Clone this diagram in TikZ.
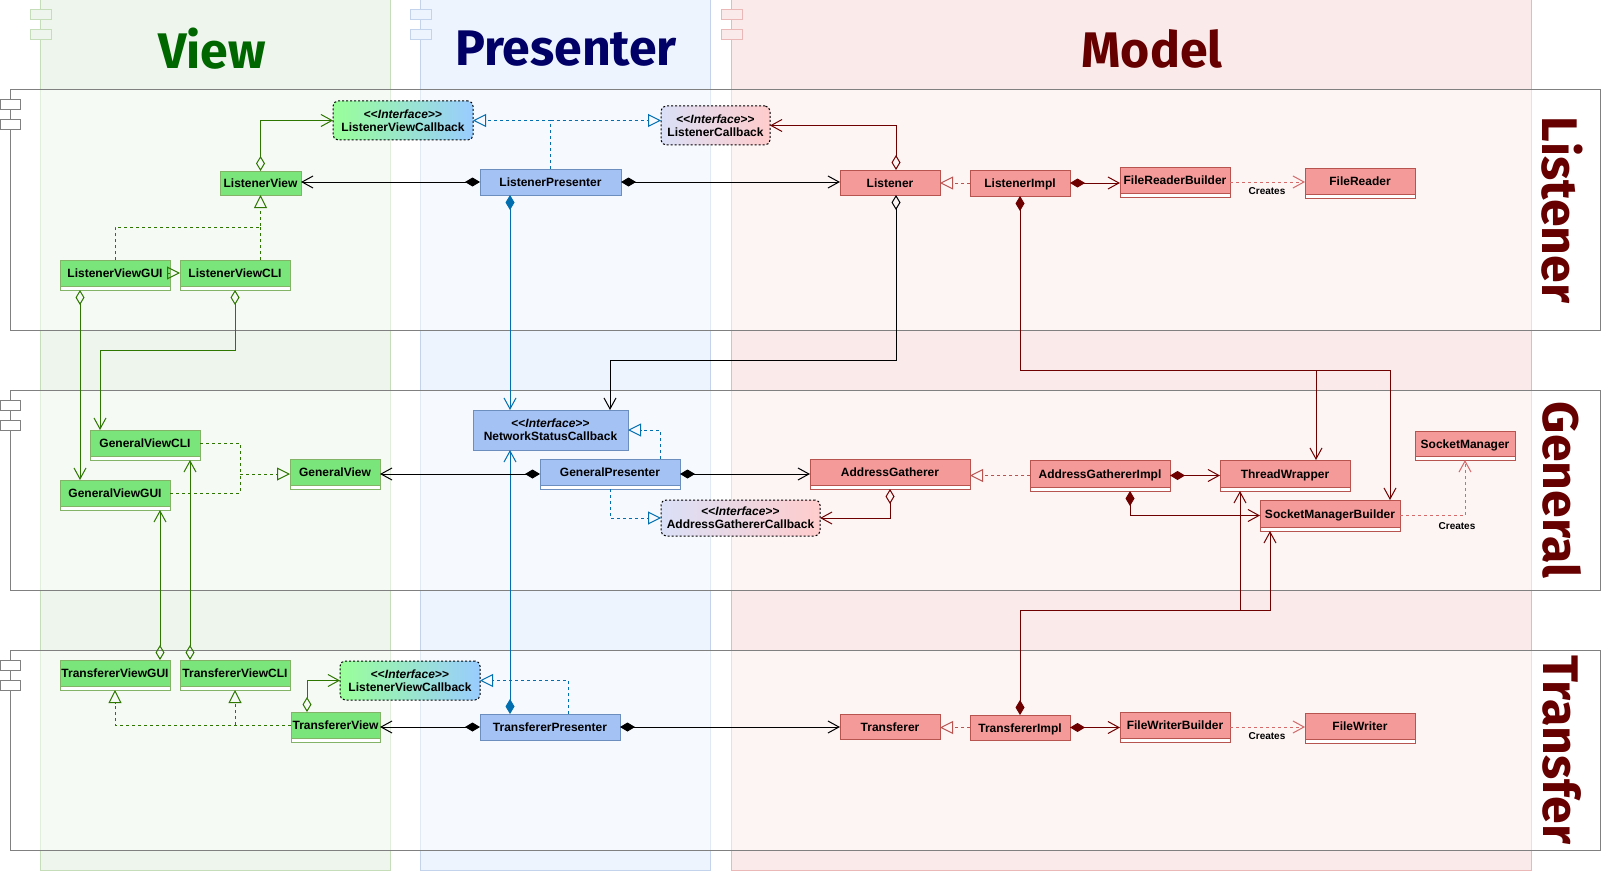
\documentclass[tikz,border=0pt]{standalone}
\usepackage{fontspec}
\setmainfont{Liberation Sans}
\newfontfamily\lanefont{Fira Sans}
\usetikzlibrary{arrows.meta}
\definecolor{viewfill}{HTML}{EEF5EC}
\definecolor{viewline}{HTML}{C6DDBA}
\definecolor{presfill}{HTML}{EEF4FD}
\definecolor{presline}{HTML}{C3D3EC}
\definecolor{modfill}{HTML}{FBEAEA}
\definecolor{modline}{HTML}{EBB8B8}
\definecolor{gfill}{HTML}{7AE57A}
\definecolor{gline}{HTML}{82B366}
\definecolor{bfill}{HTML}{A4C2F4}
\definecolor{bline}{HTML}{6C8EBF}
\definecolor{rfill}{HTML}{F49A99}
\definecolor{rline}{HTML}{B85450}
\definecolor{gconn}{HTML}{2D7600}
\definecolor{bconn}{HTML}{006EAF}
\definecolor{rconn}{HTML}{6F0000}
\definecolor{rdash}{HTML}{D46A6A}
\definecolor{viewtitle}{HTML}{006600}
\definecolor{prestitle}{HTML}{000066}
\definecolor{modtitle}{HTML}{660000}
\definecolor{ifg}{HTML}{99FF99}
\definecolor{ifb}{HTML}{99CCFF}
\definecolor{ifl}{HTML}{DAE0F7}
\definecolor{ifp}{HTML}{FFCCCC}
\definecolor{secline}{HTML}{808080}
\newcommand\clsfont{\fontsize{12}{14}\selectfont\bfseries}
\newcommand\intffont{\fontsize{12}{13}\selectfont\bfseries}
\newcommand\intf[1]{<\kern0pt<\textit{Interface}>\kern0pt>\\#1}
\newcommand\umlbox[7]{\node[#6, minimum width={(#4-#2)*1pt}, minimum height={(#5-#3)*1pt}] (#1) at ({(#2+#4)/2},{(#3+#5)/2}) {#7};}
\tikzset{
  adia/.tip={Diamond[open,length=15pt,width=9pt]},
  cdia/.tip={Diamond[length=15pt,width=9pt]},
  barb/.tip={Straight Barb[length=11pt,width=12pt]},
  otri/.tip={Triangle[open,length=13pt,width=13pt]},
  dsh/.style={dash pattern=on 3pt off 3pt},
  agg/.style={adia-barb},
  compo/.style={cdia-barb},
  assoc/.style={-barb},
  real/.style={dsh,-otri},
  clsbase/.style={draw, line width=1pt, font=\clsfont, inner sep=0pt, outer sep=0pt, text height=9pt, text depth=0pt},
  gcls/.style={clsbase, draw=gline, fill=gfill},
  bcls/.style={clsbase, draw=bline, fill=bfill},
  rcls/.style={clsbase, draw=rline, fill=rfill},
  compart/.style={text depth=4pt, path picture={
     \fill[white] (path picture bounding box.south west) rectangle ([yshift=4pt]path picture bounding box.south east);
     \draw[#1, line width=1pt] ([yshift=4pt]path picture bounding box.south west) -- ([yshift=4pt]path picture bounding box.south east);}},
  iface/.style={draw=black, line width=1pt, dash pattern=on 2pt off 2pt, rounded corners=5pt, font=\intffont, align=center, inner sep=0pt, outer sep=0pt},
  bface/.style={draw=bline, fill=bfill, line width=1pt, font=\intffont, align=center, inner sep=0pt, outer sep=0pt},
  lanetitle/.style={font={\lanefont\fontsize{50}{60}\selectfont\bfseries}},
  sectitle/.style={font={\lanefont\fontsize{50}{60}\selectfont\bfseries}, text=modtitle, rotate=-90},
  creates/.style={font={\fontsize{10}{12}\selectfont\bfseries}, text=black, inner sep=1pt},
  sectab/.style={draw=secline, fill=white, line width=1pt},
}
\begin{document}
\begin{tikzpicture}[x=1pt,y=-1pt,line width=1pt]
\useasboundingbox (0,0) rectangle (1606,872);
% lanes
\draw[viewline, fill=viewfill] (40,0) rectangle (390,870);
\draw[presline, fill=presfill] (420,0) rectangle (710,870);
\draw[modline, fill=modfill] (731,0) rectangle (1531,870);
\draw[viewline, fill=viewfill] (30,10) rectangle (51,20);
\draw[viewline, fill=viewfill] (30,30) rectangle (51,40);
\draw[presline, fill=presfill] (410,10) rectangle (431,20);
\draw[presline, fill=presfill] (410,30) rectangle (431,40);
\draw[modline, fill=modfill] (721,10) rectangle (742,20);
\draw[modline, fill=modfill] (721,30) rectangle (742,40);
\node[lanetitle, text=viewtitle] (tview) at (212,49) {View};
\node[lanetitle, text=prestitle] (tpres) at (566,49) {Presenter};
\node[lanetitle, text=modtitle] (tmodel) at (1152,49) {Model};
% sections
\foreach \ya/\yb in {90/330, 390/590, 650/850}{
  \fill[white, fill opacity=0.5] (10,\ya) rectangle (1600,\yb);
  \draw[secline] (10,\ya) rectangle (1600,\yb);
  \draw[sectab] (0,\ya+10) rectangle (20,\ya+20);
  \draw[sectab] (0,\ya+30) rectangle (20,\ya+40);
}
\node[sectitle] (tlis) at (1562,210) {Listener};
\node[sectitle] (tgen) at (1562,490) {General};
\node[sectitle] (ttra) at (1562,750) {Transfer};
% view nodes
\umlbox{lv}{220}{171}{301}{195}{gcls}{ListenerView}
\umlbox{lvgui}{60}{260}{170}{290}{gcls,compart=gline}{ListenerViewGUI}
\umlbox{lvcli}{180}{260}{290}{290}{gcls,compart=gline}{ListenerViewCLI}
\umlbox{gvcli}{90}{430}{200}{460}{gcls,compart=gline}{GeneralViewCLI}
\umlbox{gvgui}{60}{480}{170}{510}{gcls,compart=gline}{GeneralViewGUI}
\umlbox{gv}{290}{459}{380}{489}{gcls,compart=gline}{GeneralView}
\umlbox{tvgui}{60}{660}{170}{690}{gcls,compart=gline}{TransfererViewGUI}
\umlbox{tvcli}{180}{660}{290}{690}{gcls,compart=gline}{TransfererViewCLI}
\umlbox{tv}{291}{712}{380}{742}{gcls,compart=gline}{TransfererView}
\umlbox{lvcb}{333}{101}{473}{140}{iface,left color=ifg,right color=ifb}{\intf{ListenerViewCallback}}
\umlbox{tvcb}{340}{661}{480}{700}{iface,left color=ifg,right color=ifb}{\intf{ListenerViewCallback}}
% presenter nodes
\umlbox{lp}{480}{169}{621}{195}{bcls}{ListenerPresenter}
\umlbox{nsc}{473}{410}{628}{450}{bface}{\intf{NetworkStatusCallback}}
\umlbox{gp}{540}{459}{680}{489}{bcls,compart=bline}{GeneralPresenter}
\umlbox{tp}{480}{714}{620}{740}{bcls}{TransfererPresenter}
\umlbox{lcb}{661}{106}{770}{145}{iface,left color=ifl,right color=ifp}{\intf{ListenerCallback}}
\umlbox{agcb}{661}{500}{820}{536}{iface,left color=ifl,right color=ifp}{\intf{AddressGathererCallback}}
% model nodes
\umlbox{lis}{840}{170}{940}{195}{rcls}{Listener}
\umlbox{lisimpl}{970}{170}{1070}{196}{rcls}{ListenerImpl}
\umlbox{frb}{1120}{167}{1230}{197}{rcls,compart=rline}{FileReaderBuilder}
\umlbox{fr}{1305}{168}{1415}{198}{rcls,compart=rline}{FileReader}
\umlbox{ag}{810}{459}{970}{489}{rcls,compart=rline}{AddressGatherer}
\umlbox{agi}{1030}{460}{1170}{491}{rcls,compart=rline}{AddressGathererImpl}
\umlbox{tw}{1220}{460}{1350}{491}{rcls,compart=rline}{ThreadWrapper}
\umlbox{smb}{1260}{500}{1400}{531}{rcls,compart=rline}{SocketManagerBuilder}
\umlbox{sm}{1415}{431}{1515}{460}{rcls,compart=rline}{SocketManager}
\umlbox{tr}{840}{714}{940}{739}{rcls}{Transferer}
\umlbox{tri}{970}{715}{1070}{740}{rcls}{TransfererImpl}
\umlbox{fwb}{1120}{712}{1230}{742}{rcls,compart=rline}{FileWriterBuilder}
\umlbox{fw}{1305}{713}{1415}{743}{rcls,compart=rline}{FileWriter}
% helper coordinates
\coordinate (c1) at (0,350);
\coordinate (c2) at (0,360);
\coordinate (c3) at (0,370);
\coordinate (c4) at (0,610);
\coordinate (gvj) at (240,474);
\coordinate (gvcliin) at ([xshift=10pt]gvcli.north west);
\coordinate (tvl) at ([yshift=2pt]tv.west);
\coordinate (lpb) at ([xshift=30pt]lp.south west);
\coordinate (tpt) at ([xshift=30pt]tp.north west);
\coordinate (lisb) at ([xshift=6pt]lis.south);
\coordinate (list) at ([xshift=6pt]lis.north);
\coordinate (nsct) at ([xshift=137pt]nsc.north west);
\coordinate (smbt) at ([xshift=-10pt]smb.north east);
\coordinate (twt) at ([xshift=31pt]tw.north);
\coordinate (agib) at ([xshift=100pt]agi.south west);
\coordinate (smbb) at ([xshift=10pt]smb.south west);
\coordinate (twb) at ([xshift=20pt]tw.south west);
% view connectors
\draw[gconn, agg] (lv.north) |- (lvcb.west);
\draw[gconn, real] (lvgui.north) -- ++(0,-33) -| (lv.south);
\draw[gconn, dsh] (lv.south |- lvcli.north) -- ++(0,-33);
\draw[gconn, real] ([yshift=2pt]lvgui.east) -- ([yshift=2pt]lvcli.west);
\draw[gconn, agg] ([xshift=20pt]lvgui.south west) -- ([xshift=20pt]gvgui.north west);
\draw[gconn, agg] (lvcli.south) -- (lvcli.south |- c1) -| (gvcliin);
\draw[gconn, dsh] ([yshift=2pt]gvcli.east) -| (gvj);
\draw[gconn, dsh] ([yshift=2pt]gvgui.east) -| (gvj);
\draw[gconn, real] (gvj) -- (gvj -| gv.west);
\draw[gconn, agg] ([xshift=-10pt]tvgui.north east) -- ([xshift=-10pt]gvgui.south east);
\draw[gconn, agg] ([xshift=10pt]tvcli.north west) -- ([xshift=-10pt]gvcli.south east);
\draw[gconn, agg] ([xshift=16pt]tv.north west) |- (tvcb.west);
\draw[gconn, real] (tvl) -| (tvgui.south);
\draw[gconn, real] (tvcli.south |- tvl) -- (tvcli.south);
% presenter connectors
\draw[bconn, real] (lp.north) |- (lvcb.east);
\draw[bconn, real] (lp.north |- lvcb.east) -- (lvcb.east -| lcb.west);
\draw[bconn, compo] (lpb) -- (lpb |- nsc.north);
\draw[bconn, compo] (tpt) -- (tpt |- nsc.south);
\draw[bconn, real] ([xshift=88pt]tp.north west) |- (tvcb.east);
\draw[bconn, real] ([xshift=-20pt]gp.north east) |- (nsc.east);
\draw[bconn, real] (gp.south) |- (agcb.west);
% black connectors
\draw[compo] (lp.west) -- (lp.west -| lv.east);
\draw[compo] (lp.east) -- (lp.east -| lis.west);
\draw[compo] (gp.west) -- (gp.west -| gv.east);
\draw[compo] (gp.east) -- (gp.east -| ag.west);
\draw[compo] (tp.west) -- (tp.west -| tv.east);
\draw[compo] (tp.east) -- (tp.east -| tr.west);
\draw[agg] (lisb) -- (lisb |- c2) -| (nsct);
% model connectors
\draw[rconn, agg] (list) |- (lcb.east);
\draw[rline, real] (lisimpl.west) -- (lisimpl.west -| lis.east);
\draw[rconn, compo] (lisimpl.east) -- (lisimpl.east -| frb.west);
\draw[rdash, dsh, assoc] (frb.east) -- (frb.east -| fr.west);
\node[creates] (cr1) at (1267,191) {Creates};
\draw[rconn, compo] (lisimpl.south) -- (lisimpl.south |- c3) -| (smbt);
\draw[rconn, assoc] (twt |- c3) -- (twt);
\draw[rconn, agg] (ag.south) |- (agcb.east);
\draw[rline, real] (agi.west) -- (agi.west -| ag.east);
\draw[rconn, compo] (agi.east) -- (agi.east -| tw.west);
\draw[rconn, compo] (agib) |- (smb.west);
\draw[rconn, compo] (tri.north) -- (tri.north |- c4) -| (smbb);
\draw[rconn, assoc] (twb |- c4) -- (twb);
\draw[rdash, dsh, assoc] (smb.east) -| (sm.south);
\node[creates] (cr2) at (1457,526) {Creates};
\draw[rline, real] (tri.west) -- (tri.west -| tr.east);
\draw[rconn, compo] (tri.east) -- (tri.east -| fwb.west);
\draw[rdash, dsh, assoc] (fwb.east) -- (fwb.east -| fw.west);
\node[creates] (cr3) at (1267,736) {Creates};
\end{tikzpicture}
\end{document}
